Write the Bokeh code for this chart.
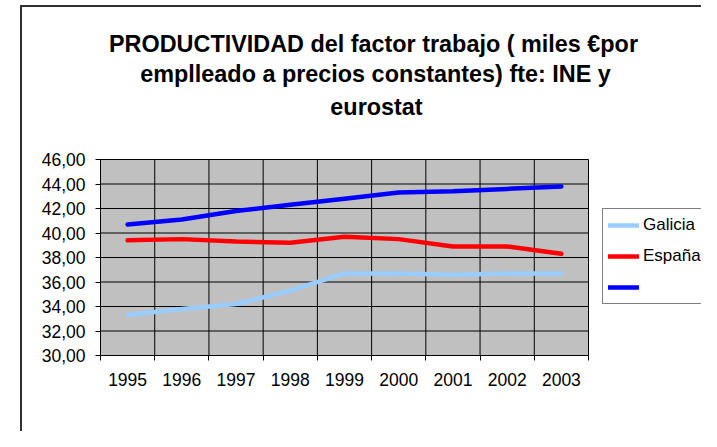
import json
from bokeh.plotting import figure
from bokeh.models import (Range1d, FixedTicker, CustomJSTickFormatter, Label, Arrow,
                          BoxAnnotation, Legend, LegendItem)
from bokeh.embed import file_html
from bokeh.resources import INLINE

# ---- data ----
years = ["1995", "1996", "1997", "1998", "1999", "2000", "2001", "2002", "2003"]
galicia = [33.3, 33.8, 34.2, 35.3, 36.7, 36.7, 36.6, 36.7, 36.7]
espana = [39.4, 39.5, 39.3, 39.2, 39.7, 39.5, 38.9, 38.9, 38.3]
tercera = [40.7, 41.1, 41.8, 42.3, 42.8, 43.3, 43.4, 43.6, 43.8]
series_names = ["Galicia", "España", " "]
y_ticks = [30, 32, 34, 36, 38, 40, 42, 44, 46]
title_lines = ["PRODUCTIVIDAD del factor trabajo ( miles €por",
               "emplleado a precios constantes) fte: INE y",
               "eurostat"]

# ---- geometry (canvas pixels) ----
W, H = 701, 431
FL, FR, FT, FB = 100, 588, 159, 355          # plot area
NX = len(years)
YMIN, YMAX = y_ticks[0], y_ticks[-1]
SX = (FR - FL) / NX
SY = (FB - FT) / (YMAX - YMIN)
X0 = 0 - FL / SX
X1 = NX + (W - FR) / SX
Y0 = YMIN - (H - FB) / SY
Y1 = YMAX + FT / SY

def px_x(px):
    return X0 + px / SX

def px_y(py):
    return Y1 - py / SY

p = figure(width=W, height=H, output_backend="svg", toolbar_location=None, tools="",
           x_range=Range1d(X0, X1), y_range=Range1d(Y0, Y1),
           min_border=0, min_border_left=0, min_border_right=0,
           min_border_top=0, min_border_bottom=0)
p.background_fill_color = "white"
p.border_fill_color = "white"
p.outline_line_color = None
p.xgrid.visible = False
p.ygrid.visible = False

# plot area background
p.add_layout(BoxAnnotation(left=0, right=NX, bottom=YMIN, top=YMAX,
                           fill_color="#C0C0C0", fill_alpha=1,
                           line_color="#808080", line_width=1, level="underlay"))

xs = [i + 0.5 for i in range(NX)]
bounds_x = list(range(NX + 1))

# grid lines from the ticks
p.segment(x0=bounds_x, y0=[YMIN] * len(bounds_x), x1=bounds_x, y1=[YMAX] * len(bounds_x),
          line_color="black", line_width=1)
p.segment(x0=[0] * len(y_ticks), y0=y_ticks, x1=[NX] * len(y_ticks), y1=y_ticks,
          line_color="black", line_width=1)

colors = ["#99CCFF", "#FF0000", "#0000FF"]
renderers = []
for vals, c in zip([galicia, espana, tercera], colors):
    r = p.line(xs, vals, line_color=c, line_width=4.5, line_join="round", line_cap="round")
    renderers.append(r)

# axes
font = "Liberation Sans"
xa = p.xaxis[0]
ya = p.yaxis[0]
xa.fixed_location = YMIN
ya.fixed_location = 0
xa.bounds = (0, NX)
ya.bounds = (YMIN, YMAX)
xa.ticker = FixedTicker(ticks=xs, minor_ticks=bounds_x)
xa.formatter = CustomJSTickFormatter(
    code="const labels = %s; return labels[Math.round(tick - 0.5)];" % json.dumps(years))
xa.major_tick_out = 0
xa.major_tick_in = 0
xa.minor_tick_out = 5
xa.minor_tick_in = 0
xa.minor_tick_line_color = "black"
xa.major_label_standoff = 12
ya.ticker = FixedTicker(ticks=y_ticks)
ya.formatter = CustomJSTickFormatter(code="return tick.toFixed(2).replace('.', ',');")
ya.major_tick_out = 5
ya.major_tick_in = 0
ya.minor_tick_line_color = None
ya.major_label_standoff = 10
for ax in (xa, ya):
    ax.axis_line_color = "black"
    ax.axis_line_width = 1
    ax.major_tick_line_color = "black"
    ax.major_label_text_font = font
    ax.major_label_text_font_size = "17.5px"
    ax.major_label_text_color = "black"

# title
title_pos = [(373, 43.3), (375, 73.5), (376, 106)]
for txt, (cx, by) in zip(title_lines, title_pos):
    p.add_layout(Label(x=px_x(cx), y=px_y(by), text=txt, text_font=font,
                       text_font_style="bold", text_font_size="23.4px", text_color="black",
                       text_align="center", text_baseline="alphabetic"))

# outer chart frame
for (x0, y0, x1, y1) in [(19.5, 5.5, W, 5.5), (20.5, 4.5, 20.5, H)]:
    p.add_layout(Arrow(end=None, x_start=px_x(x0), y_start=px_y(y0), x_end=px_x(x1), y_end=px_y(y1),
                       line_color="#303030", line_width=2))

# legend
legend = Legend(items=[LegendItem(label=n, renderers=[r]) for n, r in zip(series_names, renderers)],
                location=(602, H - 304),
                padding=5, spacing=9, margin=0,
                glyph_width=31, glyph_height=22, label_height=22, label_standoff=4,
                label_text_font=font, label_text_font_size="17px", label_text_color="black",
                border_line_color="black", border_line_width=1,
                background_fill_color="white", background_fill_alpha=1)
p.add_layout(legend)

open("out.html", "w").write(file_html(p, INLINE))
